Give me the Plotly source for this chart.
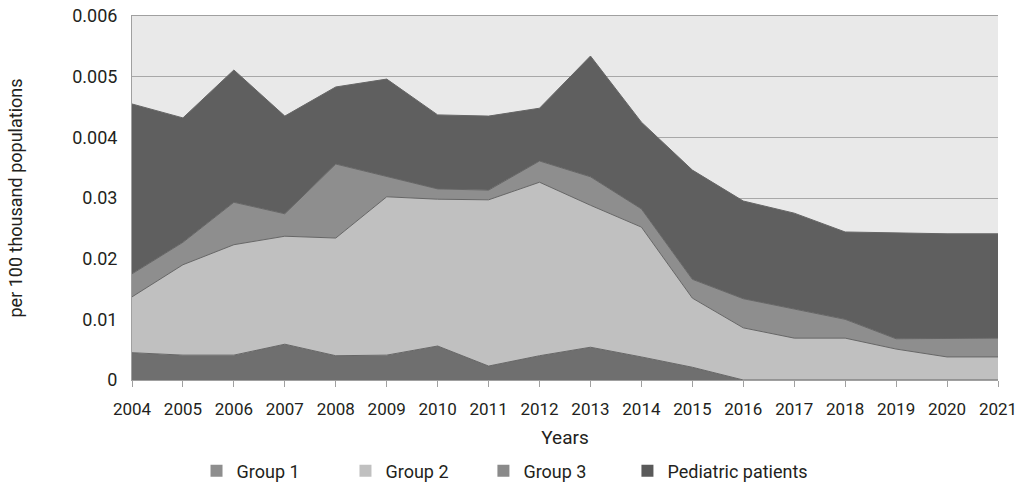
import plotly.graph_objects as go

years = list(range(2004, 2022))
group1 = [0.00045, 0.00041, 0.00041, 0.00059, 0.00040, 0.00041, 0.00056, 0.00023, 0.00040,
          0.00054, 0.00038, 0.00021, 0, 0, 0, 0, 0, 0]
group2 = [0.00092, 0.00149, 0.00182, 0.00178, 0.00194, 0.00261, 0.00242, 0.00274, 0.00286,
          0.00234, 0.00214, 0.00114, 0.00086, 0.00069, 0.00069, 0.00051, 0.00038, 0.00038]
group3 = [0.00038, 0.00037, 0.00070, 0.00037, 0.00122, 0.00033, 0.00017, 0.00016, 0.00035,
          0.00047, 0.00030, 0.00031, 0.00048, 0.00048, 0.00031, 0.00017, 0.00030, 0.00031]
pediatric = [0.00280, 0.00205, 0.00218, 0.00161, 0.00127, 0.00161, 0.00122, 0.00122, 0.00087,
             0.00199, 0.00143, 0.00180, 0.00161, 0.00158, 0.00144, 0.00174, 0.00173, 0.00172]
ytick_vals = [0, 0.001, 0.002, 0.003, 0.004, 0.005, 0.006]
ytick_text = ["0", "0.01", "0.02", "0.03", "0.004", "0.005", "0.006"]

series = [
    ("Group 1", group1, "#6f6f6f", "#8e8e8e"),
    ("Group 2", group2, "#c0c0c0", "#c0c0c0"),
    ("Group 3", group3, "#8e8e8e", "#8a8a8a"),
    ("Pediatric patients", pediatric, "#5f5f5f", "#5a5a5a"),
]
legend_ids = ["legend", "legend2", "legend3", "legend4"]
legend_x = [0.0745, 0.2465, 0.4058, 0.5721]

FONT = "Roboto, Liberation Sans, sans-serif"

fig = go.Figure()
for name, vals, fillc, legc in series:
    fig.add_trace(go.Scatter(
        x=years, y=vals, name=name, stackgroup="one", mode="lines",
        line=dict(color="#666666", width=1), fillcolor=fillc, showlegend=False,
    ))
for (name, vals, fillc, legc), lid in zip(series, legend_ids):
    fig.add_trace(go.Scatter(
        x=[None], y=[None], name=name, mode="markers", legend=lid,
        marker=dict(symbol="square", size=14, color=legc), showlegend=True,
    ))

legend_common = dict(orientation="h", xanchor="left", y=-0.25, yanchor="middle",
                     font=dict(size=18), itemsizing="constant", bgcolor="rgba(0,0,0,0)")

fig.update_layout(
    width=1024, height=491,
    margin=dict(l=132, r=26, t=16, b=111, autoexpand=False),
    paper_bgcolor="white", plot_bgcolor="#e9e9e9",
    font=dict(family=FONT, size=17, color="#231f20"),
    showlegend=True,
    **{lid: dict(x=lx, **legend_common) for lid, lx in zip(legend_ids, legend_x)},
)
fig.update_xaxes(
    range=[2004, 2021], tickmode="linear", tick0=2004, dtick=1,
    showgrid=False, zeroline=False, showline=True, linecolor="#a0a0a0", mirror=True,
    ticks="outside", ticklen=6, tickcolor="#a0a0a0", automargin=False,
    tickfont=dict(size=17), ticklabelstandoff=8,
    title=dict(text="Years", standoff=12, font=dict(size=19)),
)
fig.update_yaxes(
    range=[0, 0.006], tickvals=ytick_vals, ticktext=ytick_text,
    showgrid=True, gridcolor="#a8a8a8", gridwidth=1, zeroline=False,
    showline=True, linecolor="#a0a0a0", ticks="", ticklabelstandoff=10,
    automargin=False, tickfont=dict(size=18),
    title=dict(text="per 100 thousand populations", standoff=44, font=dict(size=18)),
)
# remove the browser's default 8px body margin so the figure fills the window exactly
fig.write_html("out.html", config={"displayModeBar": False},
               post_script="document.body.style.margin='0';")
